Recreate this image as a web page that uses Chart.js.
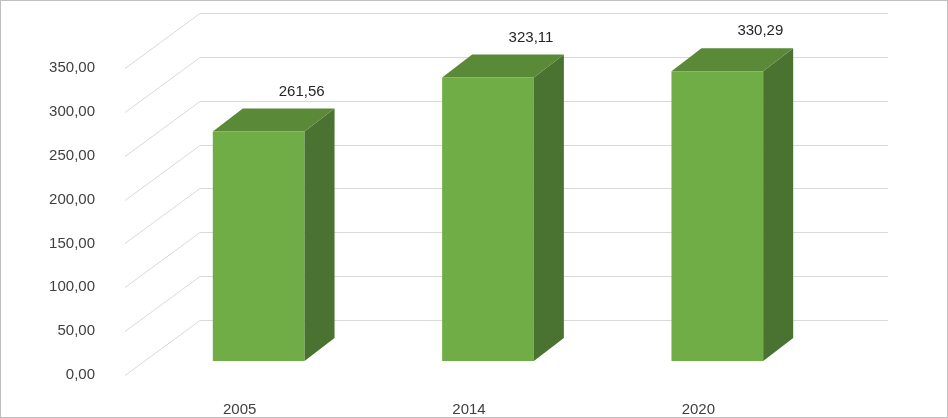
<!DOCTYPE html>
<html><head><meta charset="utf-8">
<script src="https://cdn.jsdelivr.net/npm/chart.js@4"></script>
<style>html,body{margin:0;padding:0;background:#fff}#w{width:948px;height:418px}</style>
</head><body><div id="w"><canvas id="c"></canvas></div>
<script>
const categories = ['2005','2014','2020'];
const values = [261.56, 323.11, 330.29];
const labels = ['261,56','323,11','330,29'];

const DX=75, DY=-55, BX=19, BY=-14, SX=30, SY=-23;
const fmt = v => v.toFixed(2).replace('.', ',');

const threeD = {
  id:'threeD',
  beforeDatasetsDraw(chart){
    const {ctx, chartArea:a, scales:{y}} = chart;
    ctx.save();
    ctx.strokeStyle='#d9d9d9'; ctx.lineWidth=1;
    y.ticks.forEach(t=>{
      const py = Math.round(y.getPixelForValue(t.value))+0.5;
      ctx.beginPath(); ctx.moveTo(a.left,py); ctx.lineTo(a.left+DX,py+DY); ctx.lineTo(a.right+DX,py+DY); ctx.stroke();
    });
    ctx.restore();
  },
  afterDatasetsDraw(chart){
    const {ctx} = chart;
    const meta = chart.getDatasetMeta(0);
    ctx.save();
    meta.data.forEach((b,i)=>{
      const l=b.x-b.width/2+BX, r=b.x+b.width/2+BX, t=b.y+BY, bo=b.base+BY;
      ctx.fillStyle='#70AD47'; ctx.fillRect(l,t,r-l,bo-t);
      ctx.fillStyle='#4A7230';
      ctx.beginPath(); ctx.moveTo(r,t); ctx.lineTo(r+SX,t+SY); ctx.lineTo(r+SX,bo+SY); ctx.lineTo(r,bo); ctx.closePath(); ctx.fill();
      ctx.fillStyle='#5A8A38';
      ctx.beginPath(); ctx.moveTo(l,t); ctx.lineTo(l+SX,t+SY); ctx.lineTo(r+SX,t+SY); ctx.lineTo(r,t); ctx.closePath(); ctx.fill();
      ctx.fillStyle='#262626'; ctx.font='15px "Liberation Sans", sans-serif';
      ctx.textAlign='center'; ctx.textBaseline='middle';
      ctx.fillText(labels[i], b.x+BX+43, t-40);
    });
    ctx.strokeStyle='#bfbfbf'; ctx.lineWidth=1;
    ctx.strokeRect(0.5,0.5,chart.width-1,chart.height-1);
    ctx.restore();
  }
};

new Chart(document.getElementById('c'),{
  type:'bar',
  data:{labels:categories,datasets:[{data:values,backgroundColor:'rgba(0,0,0,0)',barPercentage:0.4,categoryPercentage:1}]},
  options:{
    responsive:true,maintainAspectRatio:false,animation:false,
    layout:{padding:{top:68,right:135,left:0,bottom:0}},
    plugins:{legend:{display:false},tooltip:{enabled:false}},
    scales:{
      y:{min:0,max:350,afterFit:s=>{s.width=125},
        ticks:{stepSize:50,callback:v=>fmt(v),color:'#404040',padding:22,font:{family:'Liberation Sans',size:15}},
        grid:{display:false},border:{display:false}},
      x:{afterFit:s=>{s.height=43},
        ticks:{color:'#404040',padding:18,font:{family:'Liberation Sans',size:15}},
        grid:{display:false},border:{display:false}}
    }
  },
  plugins:[threeD]
});
</script></body></html>
